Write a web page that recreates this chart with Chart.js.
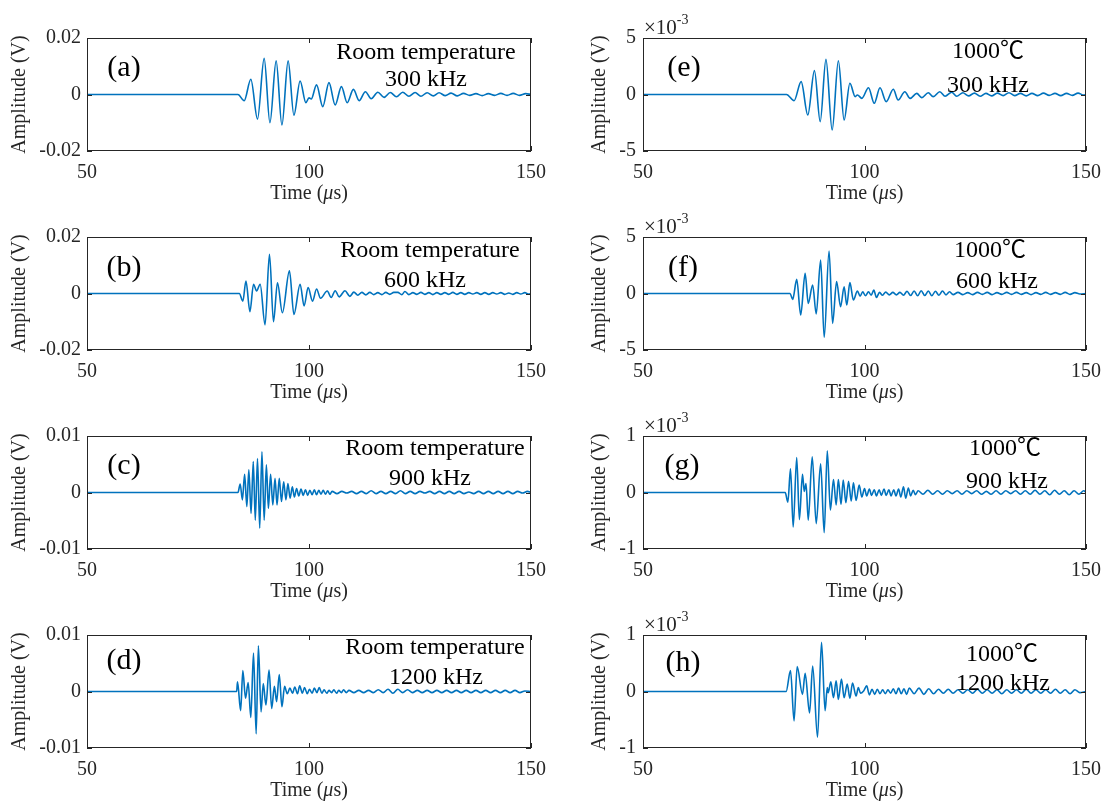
<!DOCTYPE html>
<html><head><meta charset="utf-8">
<script src="https://cdn.jsdelivr.net/npm/chart.js@4.4.1/dist/chart.umd.min.js"></script>
<style>
html,body{margin:0;padding:0;background:#fff;}
#wrap{position:relative;width:1106px;height:803px;overflow:hidden;background:#fff;}
#wrap canvas{position:absolute;}
</style></head><body><div id="wrap"></div>
<script>
// ---------------- DATA ----------------
const xTicks = [50, 100, 150];
const xTickLabels = ['50', '100', '150'];
const yTicksRoomHigh = [-0.02, 0, 0.02];
const yTickLabelsRoomHigh = ['-0.02', '0', '0.02'];
const yTicksRoomLow = [-0.01, 0, 0.01];
const yTickLabelsRoomLow = ['-0.01', '0', '0.01'];
const yTicksHot5 = [-5, 0, 5];          // x 10^-3 V
const yTickLabelsHot5 = ['-5', '0', '5'];
const yTicksHot1 = [-1, 0, 1];          // x 10^-3 V
const yTickLabelsHot1 = ['-1', '0', '1'];

const panelTags = ['(a)', '(b)', '(c)', '(d)', '(e)', '(f)', '(g)', '(h)'];
const conditions = ['Room temperature', 'Room temperature', 'Room temperature', 'Room temperature', '1000℃', '1000℃', '1000℃', '1000℃'];
const frequencies = ['300 kHz', '600 kHz', '900 kHz', '1200 kHz', '300 kHz', '600 kHz', '900 kHz', '1200 kHz'];

// (a) room temperature, 300 kHz  (time in µs, amplitude in V)
const timeA = [50, 84.0, 85.4, 86.9, 88.4, 89.9, 91.2, 92.6, 93.9, 95.3,
  96.6, 98.0, 99.3, 100.0, 100.5, 101.7, 103.1, 104.5, 105.9, 107.3,
  108.6, 110.0, 111.3, 112.7, 114.0, 115.5, 116.9, 118.3, 119.7, 121.1,
  122.5, 123.9, 125.2, 126.6, 128.0, 129.3, 130.7, 132.0, 133.4, 134.8,
  136.2, 137.6, 139.0, 140.4, 141.8, 143.2, 144.6, 146.0, 147.4, 148.8, 150];
const ampA = [0, 0, -0.0022, 0.0054, -0.0087, 0.0128, -0.0100, 0.0119, -0.0108, 0.0119,
  -0.0073, 0.0048, -0.0029, -0.0012, -0.0016, 0.0034, -0.0043, 0.0042, -0.0037, 0.0028,
  -0.0029, 0.0018, -0.0022, 0.0010, -0.0015, 0.0008, -0.0010, 0.0007, -0.0008, 0.0008,
  -0.0006, 0.0007, -0.0006, 0.0006, -0.0005, 0.0006, -0.0004, 0.0005, -0.0005, 0.0004,
  -0.0003, 0.0003, -0.0004, 0.0003, -0.0003, 0.0004, -0.0003, 0.0004, -0.0003, 0.0003, 0];

// (b) room temperature, 600 kHz
const timeB = [50, 84.3, 85.1, 85.8, 86.7, 87.5, 88.2, 89.0, 90.1, 91.1,
  92.0, 92.9, 94.0, 95.6, 96.6, 98.0, 98.9, 99.8, 100.8, 101.7,
  102.6, 104.1, 105.0, 105.9, 106.8, 108.1, 109.2, 110.1, 111.0, 111.9,
  112.8, 113.7, 114.6, 115.5, 116.4, 117.3, 118.2, 119.1, 120.0, 120.9,
  121.6, 122.5, 123.4, 124.3, 125.2, 126.1, 127.0, 127.9, 128.8, 129.7,
  130.6, 131.5, 132.4, 133.3, 134.2, 135.1, 136.0, 136.9, 137.8, 138.7,
  139.6, 140.5, 141.4, 142.3, 143.2, 144.1, 145.0, 145.9, 146.8, 147.7,
  148.6, 149.5, 150];
const ampB = [0, 0, -0.0027, 0.0044, -0.0064, 0.0033, 0.0009, 0.0033, -0.0111, 0.0139,
  -0.0100, 0.0038, -0.0068, 0.0080, -0.0074, 0.0033, -0.0044, 0.0021, -0.0027, 0.0016,
  -0.0017, 0.0009, -0.0014, 0.0010, -0.0012, 0.0010, -0.0010, 0.0005, -0.0006, 0.0004,
  -0.0005, 0.0004, -0.0004, 0.0003, -0.0004, 0.0004, -0.0003, 0.0004, 0.0004, -0.0004,
  0.0007, -0.0004, 0.0003, -0.0003, 0.0004, -0.0003, 0.0003, -0.0004, 0.0003, -0.0003,
  0.0003, -0.0003, 0.0004, -0.0003, 0.0003, -0.0003, 0.0003, -0.0002, 0.0003, -0.0003,
  0.0003, -0.0003, 0.0003, -0.0002, 0.0003, -0.0003, 0.0002, -0.0003, 0.0003, -0.0002,
  0.0003, -0.0002, 0];

// (c) room temperature, 900 kHz
const timeC = [50, 84.0, 84.5, 85.0, 85.5, 86.0, 86.45, 86.95, 87.45, 87.9,
  88.4, 88.9, 89.4, 89.9, 90.4, 90.85, 91.35, 91.85, 92.35, 92.8,
  93.3, 93.8, 94.3, 94.8, 95.25, 95.75, 96.25, 96.7, 97.2, 97.7,
  98.2, 98.7, 99.2, 99.7, 100.2, 100.7, 101.2, 101.7, 102.2, 102.7,
  103.2, 103.7, 104.2, 104.7, 105.2, 106.3, 107.4, 108.5, 109.6, 110.7,
  111.8, 112.9, 114.0, 115.1, 116.2, 117.3, 118.4, 119.5, 120.6, 121.7,
  122.8, 123.9, 125.0, 126.1, 127.2, 128.3, 129.4, 130.5, 131.6, 132.7,
  133.8, 134.9, 136.0, 137.1, 138.2, 139.3, 140.4, 141.5, 142.6, 143.7,
  144.8, 145.9, 147.0, 148.1, 149.2, 150];
const ampC = [0, 0, 0.0015, -0.0013, 0.0032, -0.0025, 0.0040, -0.0037, 0.0055, -0.0049,
  0.0060, -0.0063, 0.0072, -0.0049, 0.0049, -0.0028, 0.0032, -0.0022, 0.0025, -0.0022,
  0.0025, -0.0016, 0.0019, -0.0013, 0.0016, -0.0010, 0.0010, -0.0008, 0.0007, -0.0006,
  0.0006, -0.0005, 0.0005, -0.0005, 0.0004, -0.0004, 0.0005, -0.0004, 0.0004, -0.0003,
  0.0004, -0.0003, 0.0003, -0.0003, 0.0002, -0.0002, 0.0002, -0.0001, 0.0002, -0.0002,
  0.0002, -0.0002, 0.0003, -0.0002, 0.0002, -0.0002, 0.0002, -0.0002, 0.0003, -0.0002,
  0.0002, -0.0002, 0.0002, -0.0001, 0.0002, -0.0002, 0.0002, -0.0002, 0.0002, -0.0002,
  0.0002, -0.0002, 0.0001, -0.0002, 0.0002, -0.0002, 0.0002, -0.0002, 0.0002, -0.0002,
  0.0002, -0.0002, 0.0002, -0.0001, 0.0002, 0];

// (d) room temperature, 1200 kHz
const timeD = [50, 83.7, 83.9, 84.6, 85.1, 85.7, 86.3, 86.9, 87.5, 88.1,
  88.6, 89.2, 89.7, 90.3, 91.0, 91.6, 92.2, 92.7, 93.3, 93.9,
  94.5, 95.1, 95.7, 96.3, 96.8, 97.4, 97.9, 98.5, 99.0, 99.6,
  100.1, 100.7, 101.2, 101.8, 102.3, 102.9, 103.4, 104.0, 104.5, 105.1,
  105.6, 106.2, 106.7, 107.3, 107.8, 108.4, 109.0, 110.1, 111.2, 112.3,
  113.4, 114.5, 115.6, 116.7, 117.8, 118.9, 120.0, 121.1, 122.2, 123.3,
  124.4, 125.5, 126.6, 127.7, 128.8, 129.9, 131.0, 132.1, 133.2, 134.3,
  135.4, 136.5, 137.6, 138.7, 139.8, 140.9, 142.0, 143.1, 144.2, 145.3,
  146.4, 147.5, 148.6, 150];
const ampD = [0, 0, 0.0017, -0.0034, 0.0037, -0.0012, 0.0016, -0.0046, 0.0068, -0.0075,
  0.0081, -0.0036, 0.0014, -0.0024, 0.0038, -0.0030, 0.0009, -0.0018, 0.0030, -0.0027,
  0.0009, -0.0004, 0.0006, -0.0003, 0.0008, -0.0004, 0.0010, -0.0003, 0.0007, -0.0004,
  0.0004, -0.0003, 0.0006, -0.0002, 0.0007, -0.0003, 0.0003, -0.0003, 0.0002, -0.0002,
  0.0003, -0.0003, 0.0002, -0.0002, 0.0003, -0.0002, 0.0002, -0.0002, 0.0002, -0.0002,
  0.0002, -0.0002, 0.0003, -0.0002, 0.0004, -0.0003, 0.0004, -0.0002, 0.0003, -0.0002,
  0.0002, -0.0002, 0.0002, -0.0002, 0.0002, -0.0002, 0.0002, -0.0002, 0.0002, -0.0002,
  0.0002, -0.0002, 0.0002, -0.0002, 0.0002, -0.0002, 0.0002, -0.0002, 0.0002, -0.0002,
  0.0002, -0.0002, 0.0001, 0];

// (e) 1000 °C, 300 kHz  (amplitude in units of 10^-3 V)
const timeE = [50, 82.4, 84.1, 85.7, 87.2, 88.7, 90.0, 91.3, 92.7, 94.1,
  95.4, 96.7, 97.9, 98.4, 99.4, 100.9, 102.2, 103.5, 104.9, 106.5,
  107.6, 109.1, 110.3, 111.8, 112.9, 114.4, 115.5, 117.0, 118.2, 119.7,
  120.8, 122.2, 123.5, 124.8, 126.1, 127.4, 128.7, 130.0, 131.3, 132.6,
  133.9, 135.2, 136.5, 137.8, 139.1, 140.4, 141.7, 143.0, 144.3, 145.6,
  146.9, 148.2, 149.5, 150];
const ampE = [0, 0, -0.55, 1.14, -1.81, 2.11, -2.40, 3.11, -3.14, 2.99,
  -2.26, 0.99, -0.19, -0.04, -0.34, 0.60, -0.78, 0.60, -0.63, 0.46,
  -0.49, 0.25, -0.34, 0.10, -0.28, 0.16, -0.19, 0.25, -0.15, 0.20,
  -0.15, 0.15, -0.12, 0.12, -0.15, 0.10, -0.12, 0.12, -0.10, 0.15,
  -0.10, 0.10, -0.12, 0.10, -0.10, 0.12, -0.08, 0.10, -0.10, 0.10,
  -0.08, 0.12, -0.05, 0];

// (f) 1000 °C, 600 kHz
const timeF = [50, 83.2, 83.8, 84.7, 85.6, 86.6, 87.3, 88.3, 89.1, 90.1,
  90.9, 92.0, 92.8, 93.7, 94.6, 95.4, 96.0, 96.7, 97.5, 98.4,
  99.0, 99.6, 100.2, 100.9, 101.5, 102.1, 102.7, 103.4, 104.0, 104.8,
  105.6, 106.4, 107.2, 108.0, 108.8, 109.6, 110.4, 111.2, 112.0, 112.8,
  113.6, 114.4, 115.2, 116.0, 116.8, 117.6, 118.4, 119.2, 120.0, 121.1,
  122.2, 123.3, 124.4, 125.5, 126.6, 127.7, 128.8, 129.9, 131.0, 132.1,
  133.2, 134.3, 135.4, 136.5, 137.6, 138.7, 139.8, 140.9, 142.0, 143.1,
  144.2, 145.3, 146.4, 147.5, 148.6, 150];
const ampF = [0, 0, -0.52, 1.25, -1.90, 1.78, -0.87, 0.75, -1.81, 2.96,
  -3.88, 3.76, -2.64, 1.05, -1.17, 0.60, -1.02, 0.96, -0.58, 0.22,
  -0.24, 0.15, -0.20, 0.15, -0.15, 0.30, -0.35, 0.10, -0.15, 0.12,
  -0.12, 0.10, -0.12, 0.10, -0.15, 0.20, -0.18, 0.22, -0.20, 0.25,
  -0.18, 0.22, -0.20, 0.20, -0.15, 0.22, -0.12, 0.15, -0.10, 0.10,
  -0.10, 0.08, -0.10, 0.10, -0.08, 0.10, -0.10, 0.08, -0.08, 0.10,
  -0.08, 0.10, -0.08, 0.08, -0.10, 0.08, -0.08, 0.10, -0.08, 0.08,
  -0.08, 0.10, -0.08, 0.08, -0.05, 0];

// (g) 1000 °C, 900 kHz
const timeG = [50, 82.1, 82.7, 83.3, 83.9, 84.7, 85.3, 86.0, 86.4, 86.8,
  87.3, 88.2, 89.1, 90.1, 90.9, 91.6, 92.3, 93.0, 93.6, 94.1,
  94.7, 95.2, 95.8, 96.4, 97.0, 97.5, 98.1, 98.8, 99.4, 100.0,
  100.5, 101.1, 101.6, 102.2, 102.7, 103.3, 103.8, 104.4, 104.9, 105.5,
  106.0, 106.6, 107.1, 107.7, 108.2, 108.8, 109.3, 109.9, 110.4, 111.0,
  111.5, 112.1, 113.2, 114.3, 115.4, 116.5, 117.6, 118.7, 119.8, 120.9,
  122.0, 123.1, 124.2, 125.3, 126.4, 127.5, 128.6, 129.7, 130.8, 131.9,
  133.0, 134.1, 135.2, 136.3, 137.4, 138.5, 139.6, 140.7, 141.8, 142.9,
  144.0, 145.1, 146.2, 147.3, 148.4, 149.5, 150];
const ampG = [0, 0, -0.17, 0.42, -0.61, 0.62, -0.48, 0.32, 0.02, 0.16,
  -0.49, 0.63, -0.55, 0.51, -0.71, 0.74, -0.31, 0.23, -0.22, 0.23,
  -0.21, 0.22, -0.18, 0.20, -0.15, 0.17, -0.14, 0.13, -0.08, 0.07,
  -0.06, 0.06, -0.05, 0.05, -0.06, 0.05, -0.05, 0.06, -0.05, 0.05,
  -0.06, 0.05, -0.06, 0.06, -0.08, 0.10, -0.10, 0.08, -0.06, 0.04,
  -0.04, 0.03, -0.03, 0.04, -0.03, 0.03, -0.03, 0.03, -0.02, 0.03,
  -0.03, 0.03, -0.02, 0.03, -0.03, 0.02, -0.03, 0.03, -0.03, 0.03,
  -0.02, 0.03, -0.03, 0.03, -0.03, 0.04, -0.03, 0.03, -0.04, 0.04,
  -0.03, 0.03, -0.04, 0.03, -0.03, 0.03, 0];

// (h) 1000 °C, 1200 kHz
const timeH = [50, 82.3, 83.3, 84.1, 84.8, 86.0, 86.6, 87.6, 88.3, 89.4,
  90.3, 91.1, 91.6, 91.8, 92.4, 93.0, 93.6, 94.1, 94.8, 95.4,
  96.1, 96.7, 97.3, 98.1, 98.6, 99.1, 99.8, 100.5, 101.1, 101.7,
  102.3, 102.9, 103.5, 104.1, 104.7, 105.3, 105.9, 106.5, 107.1, 107.7,
  108.3, 108.9, 109.5, 110.1, 111.2, 112.3, 113.4, 114.5, 115.6, 116.7,
  117.8, 118.9, 120.0, 121.1, 122.2, 123.3, 124.4, 125.5, 126.6, 127.7,
  128.8, 129.9, 131.0, 132.1, 133.2, 134.3, 135.4, 136.5, 137.6, 138.7,
  139.8, 140.9, 142.0, 143.1, 144.2, 145.3, 146.4, 147.5, 148.6, 150];
const ampH = [0, 0, 0.37, -0.52, 0.44, -0.05, 0.32, -0.38, 0.45, -0.81,
  0.87, -0.34, 0.07, -0.02, 0.17, -0.11, 0.19, -0.14, 0.22, -0.11,
  0.13, -0.12, 0.15, -0.08, 0.07, -0.03, 0.01, 0.10, -0.06, 0.04,
  -0.05, 0.04, -0.04, 0.03, -0.04, 0.03, -0.03, 0.05, -0.04, 0.06,
  -0.04, 0.05, -0.05, 0.06, -0.04, 0.06, -0.05, 0.05, -0.04, 0.04,
  -0.03, 0.04, -0.03, 0.03, -0.03, 0.03, -0.03, 0.04, -0.03, 0.03,
  -0.03, 0.03, -0.04, 0.03, -0.03, 0.03, -0.03, 0.04, -0.03, 0.03,
  -0.03, 0.03, -0.03, 0.04, -0.03, 0.03, -0.04, 0.03, -0.02, 0];

// ---------------- LAYOUT / STYLE ----------------
const LINE_COLOR = '#0072BD';
const AXIS_COLOR = '#262626';
const SERIF = '"Liberation Serif", "Times New Roman", serif';
const SERIF_CJK = '"Liberation Serif", "Noto Sans CJK SC", serif';
const AXIS_FONT_SIZE = 20;
const cols = [ {x: 0, w: 555, yAxisW: 87, padRight: 24, titlePad: 8, yTickPad: 6},
               {x: 555, w: 551, yAxisW: 88, padRight: 20, titlePad: 33, yTickPad: 7} ];
const rowTops = [0, 199, 398, 597];
const rowHeights = [212, 212, 212, 206];
const BOX_TOP = 38, BOX_H = 113;

// absolute page positions of the in-plot labels: [centerX, baselineY]
const labelPos = [
  {tag: [124, 76],  l1: [426, 59],  l2: [426, 86]},
  {tag: [124, 276], l1: [430, 257], l2: [425, 287]},
  {tag: [124, 474], l1: [435, 455], l2: [430, 485]},
  {tag: [124, 669], l1: [435, 654], l2: [436, 684]},
  {tag: [684, 76],  l1: [988, 58],  l2: [988, 92]},
  {tag: [683, 276], l1: [990, 257], l2: [997, 288]},
  {tag: [682, 474], l1: [1005, 455], l2: [1007, 488]},
  {tag: [683, 671], l1: [1002, 661], l2: [1003, 690]}
];

const panels = [
  {t: timeA, v: ampA, yt: yTicksRoomHigh, yl: yTickLabelsRoomHigh, col: 0, row: 0, exp: false},
  {t: timeB, v: ampB, yt: yTicksRoomHigh, yl: yTickLabelsRoomHigh, col: 0, row: 1, exp: false},
  {t: timeC, v: ampC, yt: yTicksRoomLow,  yl: yTickLabelsRoomLow,  col: 0, row: 2, exp: false},
  {t: timeD, v: ampD, yt: yTicksRoomLow,  yl: yTickLabelsRoomLow,  col: 0, row: 3, exp: false},
  {t: timeE, v: ampE, yt: yTicksHot5, yl: yTickLabelsHot5, col: 1, row: 0, exp: true},
  {t: timeF, v: ampF, yt: yTicksHot5, yl: yTickLabelsHot5, col: 1, row: 1, exp: true},
  {t: timeG, v: ampG, yt: yTicksHot1, yl: yTickLabelsHot1, col: 1, row: 2, exp: true},
  {t: timeH, v: ampH, yt: yTicksHot1, yl: yTickLabelsHot1, col: 1, row: 3, exp: true}
];

function drawMixed(ctx, parts, cx, baseY) {
  let w = 0;
  parts.forEach(([s, f]) => { ctx.font = f; w += ctx.measureText(s).width; });
  let x = cx - w / 2;
  ctx.textAlign = 'left';
  ctx.textBaseline = 'alphabetic';
  parts.forEach(([s, f]) => { ctx.font = f; ctx.fillText(s, x, baseY); x += ctx.measureText(s).width; });
}

function makeDecor(idx, offX, offY) {
  return {
    id: 'decor' + idx,
    afterDraw(chart) {
      const ctx = chart.ctx;
      const a = chart.chartArea;
      const xs = chart.scales.x, ys = chart.scales.y;
      const p = panels[idx];
      ctx.save();
      // box
      ctx.strokeStyle = AXIS_COLOR;
      ctx.lineWidth = 1;
      ctx.strokeRect(a.left + 0.5, a.top + 0.5, a.right - a.left - 1, a.bottom - a.top - 1);
      // inward ticks
      const TL = 5;
      ctx.beginPath();
      xTicks.forEach(v => {
        const px = Math.round(xs.getPixelForValue(v)) + 0.5;
        ctx.moveTo(px, a.top); ctx.lineTo(px, a.top + TL);
        ctx.moveTo(px, a.bottom); ctx.lineTo(px, a.bottom - TL);
      });
      p.yt.forEach(v => {
        const py = Math.round(ys.getPixelForValue(v)) + 0.5;
        ctx.moveTo(a.left, py); ctx.lineTo(a.left + TL, py);
        ctx.moveTo(a.right, py); ctx.lineTo(a.right - TL, py);
      });
      ctx.stroke();
      // x title
      ctx.fillStyle = AXIS_COLOR;
      const fs = AXIS_FONT_SIZE + 'px ';
      drawMixed(ctx, [['Time (', fs + SERIF], ['μ', 'italic ' + fs + SERIF], ['s)', fs + SERIF]],
        (a.left + a.right) / 2, a.bottom + 48);
      // exponent
      if (p.exp) {
        ctx.textAlign = 'left'; ctx.textBaseline = 'alphabetic';
        ctx.font = '21px ' + SERIF;
        ctx.fillText('×10', a.left + 1, a.top - 4);
        const w = ctx.measureText('×10').width;
        ctx.font = '14px ' + SERIF;
        ctx.fillText('-3', a.left + 1 + w, a.top - 14);
      }
      // annotations
      const lp = labelPos[idx];
      ctx.fillStyle = '#000';
      ctx.textAlign = 'center'; ctx.textBaseline = 'alphabetic';
      ctx.font = '30px ' + SERIF;
      ctx.fillText(panelTags[idx], lp.tag[0] - offX, lp.tag[1] - offY);
      ctx.font = '24px ' + SERIF_CJK;
      ctx.fillText(conditions[idx], lp.l1[0] - offX, lp.l1[1] - offY);
      ctx.font = '24px ' + SERIF;
      ctx.fillText(frequencies[idx], lp.l2[0] - offX, lp.l2[1] - offY);
      ctx.restore();
    }
  };
}

const wrap = document.getElementById('wrap');
panels.forEach((p, idx) => {
  const c = cols[p.col];
  const top = rowTops[p.row], h = rowHeights[p.row];
  const cv = document.createElement('canvas');
  cv.width = c.w; cv.height = h;
  cv.style.left = c.x + 'px'; cv.style.top = top + 'px';
  cv.style.width = c.w + 'px'; cv.style.height = h + 'px';
  wrap.appendChild(cv);
  const n = Math.min(p.t.length, p.v.length);
  const pts = [];
  for (let i = 0; i < n; i++) pts.push({x: p.t[i], y: p.v[i]});
  const xAxisH = h - BOX_TOP - BOX_H;
  new Chart(cv.getContext('2d'), {
    type: 'line',
    data: { datasets: [{ data: pts, borderColor: LINE_COLOR, borderWidth: 1.6, pointRadius: 0,
      fill: false, cubicInterpolationMode: 'monotone' }] },
    options: {
      responsive: false, animation: false, devicePixelRatio: 1,
      events: [],
      layout: { padding: { top: BOX_TOP, right: c.padRight, bottom: 0, left: 0 } },
      plugins: { legend: { display: false }, tooltip: { enabled: false } },
      scales: {
        x: {
          type: 'linear', min: 50, max: 150,
          afterBuildTicks: s => { s.ticks = xTicks.map(v => ({value: v})); },
          afterFit: s => { s.height = xAxisH; s.paddingLeft = 0; s.paddingRight = 0; },
          grid: { display: false, drawTicks: false }, border: { display: false },
          ticks: { color: AXIS_COLOR, font: { family: SERIF, size: AXIS_FONT_SIZE }, padding: 10, maxRotation: 0, autoSkip: false,
            callback: (v, i) => xTickLabels[i] }
        },
        y: {
          type: 'linear', min: p.yt[0], max: p.yt[p.yt.length - 1],
          afterBuildTicks: s => { s.ticks = p.yt.map(v => ({value: v})); },
          afterFit: s => { s.width = c.yAxisW; s.paddingTop = 0; s.paddingBottom = 0; },
          grid: { display: false, drawTicks: false }, border: { display: false },
          ticks: { color: AXIS_COLOR, font: { family: SERIF, size: AXIS_FONT_SIZE }, padding: c.yTickPad, autoSkip: false,
            callback: (v, i) => p.yl[i] },
          title: { display: true, text: 'Amplitude (V)', color: AXIS_COLOR,
            font: { family: SERIF, size: AXIS_FONT_SIZE }, padding: { top: c.titlePad, bottom: 0 } }
        }
      }
    },
    plugins: [makeDecor(idx, c.x, top)]
  });
});
</script>
</body></html>
